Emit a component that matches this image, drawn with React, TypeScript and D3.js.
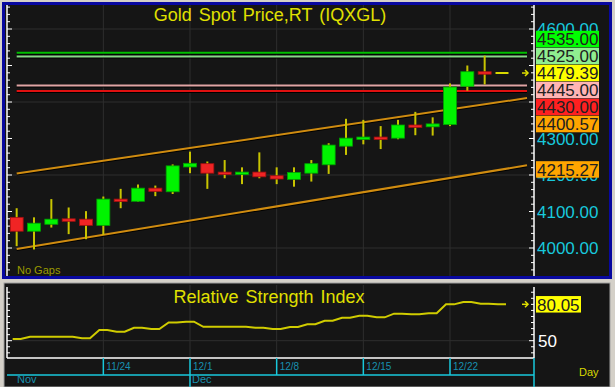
import React from "react";
import * as d3 from "d3";

// ---------- DATA ----------
const dates = [
  "11/17", "11/18", "11/19", "11/20", "11/21",
  "11/24", "11/25", "11/26", "11/27", "11/28",
  "12/1", "12/2", "12/3", "12/4", "12/5",
  "12/8", "12/9", "12/10", "12/11", "12/12",
  "12/15", "12/16", "12/17", "12/18", "12/19",
  "12/22", "12/23", "12/24", "12/25",
];
const opens = [4084, 4046, 4065, 4080, 4079, 4062, 4134, 4128, 4164, 4154, 4222, 4231, 4208, 4202, 4208, 4198, 4188, 4205, 4228, 4279, 4298, 4304, 4301, 4337, 4332, 4338, 4443, 4483, 4479.39];
const highs = [4109, 4084, 4134, 4111, 4101, 4141, 4162, 4174, 4171, 4229, 4264, 4237, 4241, 4221, 4262, 4221, 4221, 4241, 4287, 4354, 4351, 4334, 4351, 4373, 4358, 4451, 4500, 4527, 4479.39];
const lows = [4005, 3996, 4056, 4038, 4024, 4036, 4109, 4127, 4142, 4148, 4205, 4162, 4191, 4175, 4191, 4175, 4168, 4182, 4203, 4255, 4284, 4271, 4298, 4309, 4308, 4334, 4431, 4448, 4479.39];
const closes = [4046, 4068, 4079, 4076, 4062, 4134, 4129, 4164, 4155, 4225, 4232, 4205, 4202, 4208, 4195, 4189, 4207, 4231, 4282, 4301, 4304, 4299, 4337, 4332, 4340, 4441, 4483, 4478, 4479.39];
const rsiValues = [51.4, 53.3, 53.3, 53.3, 52.0, 58.8, 57.4, 60.7, 59.6, 65.0, 65.7, 61.5, 61.5, 61.5, 60.7, 59.6, 61.3, 63.6, 66.5, 69.0, 70.6, 69.3, 72.3, 71.8, 72.6, 80.0, 81.9, 80.5, 80.05];

const weekLabels = ["11/24", "12/1", "12/8", "12/15", "12/22"];
const monthLabels = ["Nov", "Dec"];
const monthStarts = ["11/17", "12/1"];

const priceTickLabels = [4000, 4100, 4200, 4300, 4600];
const priceGrid = [4000, 4200, 4400, 4600];
const levelValues = [4535, 4525, 4445, 4430];
const currentPrice = 4479.39;
const upperChannel = [4204, 4400.57]; // at first and last candle
const lowerChannel = [3997, 4215.27];
const rsiLast = 80.05;

// ---------- STYLE ----------
const FONT = "'Liberation Sans', Arial, Helvetica, sans-serif";
const levelLine = ["#00c000", "#88d888", "#e0a4a4", "#e01010"];
const levelBox = ["#00ff00", "#90ee90", "#ffb4b4", "#ff2020"];

export default function App() {
  const n = dates.length;
  const x = d3.scaleLinear().domain([0, n - 1]).range([16.67, 502]);
  const y = d3.scaleLinear().domain([4000, 4600]).range([248, 29]);
  const ry = d3.scaleLinear().domain([50, rsiLast]).range([340.7, 304.3]);
  const plotL = 7;
  const plotR = 534;
  const lineEnd = 527;
  const idxEnd = x.invert(lineEnd);

  const chan = (v: number[]) => {
    const s = d3.scaleLinear().domain([0, n - 1]).range(v);
    return [[x(0), y(s(0))], [lineEnd, y(s(idxEnd))]];
  };
  const up = chan(upperChannel);
  const lo = chan(lowerChannel);

  const minorTicks = d3.range(3940, 4661, 20);
  const rsiTicks = d3.range(40, 91, 5);

  type Lab = { v: number; bg: string; txt: string };
  const labs: Lab[] = [
    { v: levelValues[0], bg: levelBox[0], txt: levelValues[0].toFixed(2) },
    { v: levelValues[1], bg: levelBox[1], txt: levelValues[1].toFixed(2) },
    { v: currentPrice, bg: "#ffff00", txt: currentPrice.toFixed(2) },
    { v: levelValues[2], bg: levelBox[2], txt: levelValues[2].toFixed(2) },
    { v: levelValues[3], bg: levelBox[3], txt: levelValues[3].toFixed(2) },
    { v: upperChannel[1], bg: "#ffa500", txt: upperChannel[1].toFixed(2) },
  ];
  const step = 17;
  const anchor = 2;
  const pos: number[] = labs.map((l) => y(l.v));
  for (let i = anchor - 1; i >= 0; i--) pos[i] = Math.min(pos[i], pos[i + 1] - step);
  for (let i = anchor + 1; i < labs.length; i++) pos[i] = Math.max(pos[i], pos[i - 1] + step);

  const weekIdx = weekLabels.map((d) => dates.indexOf(d));
  const monthIdx = monthStarts.map((d) => dates.indexOf(d));

  const rsiPts: [number, number][] = [];
  rsiValues.forEach((v, i) => {
    rsiPts.push([x(i) - 4, ry(v)]);
    rsiPts.push([x(i) + 4, ry(v)]);
  });
  const rsiPath = d3.line()(rsiPts) || "";

  const box = (cy: number, bg: string, txt: string, key: string, w = 63) => (
    <g key={key}>
      <rect x={536} y={cy - 8.25} width={w} height={16.5} fill={bg} />
      <text x={537} y={cy + 6.2} fontSize={17} fill="#202020" fontFamily={FONT}>{txt}</text>
    </g>
  );

  const arrow = (cy: number, key: string) => (
    <g key={key} stroke="#e0e000" strokeWidth={1.5} fill="none">
      <line x1={522} y1={cy} x2={528} y2={cy} />
      <path d={`M525,${cy - 3} L528,${cy} L525,${cy + 3}`} />
    </g>
  );

  return (
    <svg width={615} height={387} style={{ position: "absolute", left: 0, top: 0 }} fontFamily={FONT}>
      <rect x={0} y={0} width={615} height={387} fill="#d4d0c8" />
      <rect x={2} y={2} width={610} height={277} fill="#0808a0" />
      <rect x={5} y={5} width={604} height={271} fill="#151515" />

      {priceGrid.map((p) => (
        <line key={"hg" + p} x1={plotL} x2={plotR} y1={y(p)} y2={y(p)} stroke="#2e2e2e" />
      ))}
      {weekIdx.map((i) => (
        <line key={"vg" + i} x1={x(i)} x2={x(i)} y1={5} y2={276} stroke="#2e2e2e" />
      ))}

      <text x={270} y={21} fontSize={18} fill="#e0e000" textAnchor="middle" wordSpacing={2}>Gold Spot Price,RT (IQXGL)</text>

      {levelValues.map((v, i) => (
        <g key={"lv" + v}>
          <line x1={x(0)} x2={lineEnd} y1={y(v) + 1} y2={y(v) + 1} stroke="#000" strokeWidth={2} />
          <line x1={x(0)} x2={lineEnd} y1={y(v)} y2={y(v)} stroke={levelLine[i]} strokeWidth={2} />
        </g>
      ))}

      {[up, lo].map((c, k) => (
        <g key={"ch" + k}>
          <line x1={c[0][0]} y1={c[0][1] + 1} x2={c[1][0]} y2={c[1][1] + 1} stroke="#000" strokeWidth={2} />
          <line x1={c[0][0]} y1={c[0][1]} x2={c[1][0]} y2={c[1][1]} stroke="#d08c10" strokeWidth={2} />
        </g>
      ))}

      {dates.map((d, i) => {
        const o = opens[i], c = closes[i], h = highs[i], l = lows[i];
        const cx = x(i);
        if (o === c && h === l) {
          return <line key={"c" + i} x1={cx - 6.5} x2={cx + 6.5} y1={y(c)} y2={y(c)} stroke="#d8d800" strokeWidth={2} />;
        }
        const top = y(Math.max(o, c));
        const bot = y(Math.min(o, c));
        const hgt = Math.max(bot - top, 2.5);
        const bull = c >= o;
        return (
          <g key={"c" + i}>
            <line x1={cx} x2={cx} y1={y(h)} y2={y(l)} stroke="#c8c400" strokeWidth={2} />
            <rect x={cx - 6.5} y={top} width={13} height={hgt} fill={bull ? "#00f400" : "#f02424"} stroke={bull ? "#00a000" : "#a01010"} strokeWidth={0.8} />
          </g>
        );
      })}

      <line x1={plotL} x2={plotL} y1={5} y2={276} stroke="#fff" strokeWidth={1.5} />
      <line x1={plotR} x2={plotR} y1={5} y2={276} stroke="#fff" strokeWidth={1.5} />
      {minorTicks.map((t) => {
        const major = t % 100 === 0;
        return (
          <g key={"t" + t} stroke="#fff">
            <line x1={plotL} x2={plotL + (major ? 5 : 3)} y1={y(t)} y2={y(t)} />
            <line x1={plotR} x2={plotR - (major ? 5 : 3)} y1={y(t)} y2={y(t)} />
          </g>
        );
      })}
      {priceTickLabels.map((t) => (
        <text key={"pl" + t} x={537} y={y(t) + 6.2} fontSize={17} fill="#18c8dc">{t.toFixed(2)}</text>
      ))}

      {labs.map((l, i) => box(pos[i], l.bg, l.txt, "b" + i))}
      {box(y(lowerChannel[1]), "#ffa500", lowerChannel[1].toFixed(2), "blo")}
      {arrow(y(currentPrice), "a1")}

      <text x={17} y={274} fontSize={11} fill="#9a9a00">No Gaps</text>

      <rect x={4} y={283} width={606} height={104} fill="#151515" stroke="#a0a0a0" strokeWidth={1} />
      {weekIdx.map((i) => (
        <line key={"rvg" + i} x1={x(i)} x2={x(i)} y1={285} y2={358} stroke="#2e2e2e" />
      ))}
      <line x1={plotL} x2={plotR} y1={ry(50)} y2={ry(50)} stroke="#2e2e2e" />
      <text x={269} y={303} fontSize={18} fill="#e0e000" textAnchor="middle" wordSpacing={2}>Relative Strength Index</text>
      <path d={rsiPath} fill="none" stroke="#d0cc00" strokeWidth={2} />
      <line x1={plotL} x2={plotL} y1={287} y2={358} stroke="#fff" strokeWidth={1.5} />
      <line x1={plotR} x2={plotR} y1={287} y2={358} stroke="#fff" strokeWidth={1.5} />
      <line x1={plotL} x2={plotR} y1={358} y2={358} stroke="#fff" strokeWidth={1.5} />
      {rsiTicks.map((t) => (
        <g key={"rt" + t} stroke="#fff">
          <line x1={plotL} x2={plotL + (t === 50 ? 5 : 3)} y1={ry(t)} y2={ry(t)} />
          <line x1={plotR} x2={plotR - (t === 50 ? 5 : 3)} y1={ry(t)} y2={ry(t)} />
        </g>
      ))}
      <text x={538} y={ry(50) + 6.2} fontSize={17} fill="#ffffff">50</text>
      <rect x={536} y={ry(rsiLast) - 8.25} width={45} height={16.5} fill="#ffff00" />
      <text x={537} y={ry(rsiLast) + 6.2} fontSize={17} fill="#202020">{rsiLast.toFixed(2)}</text>
      {arrow(ry(rsiLast), "a2")}

      <line x1={plotL} x2={plotR} y1={375} y2={375} stroke="#18c8dc" strokeWidth={1.5} />
      <line x1={plotR} x2={plotR} y1={358} y2={387} stroke="#18c8dc" strokeWidth={1.5} />
      {weekIdx.map((i, k) => (
        <g key={"wk" + i}>
          <line x1={x(i)} x2={x(i)} y1={358} y2={monthIdx.includes(i) ? 387 : 375} stroke="#18c8dc" strokeWidth={1.5} />
          <text x={x(i) + 3} y={370} fontSize={10} fill="#1890b0">{weekLabels[k]}</text>
        </g>
      ))}
      {monthLabels.map((m, k) => (
        <text key={"m" + m} x={monthIdx[k] === 0 ? 17 : x(monthIdx[k]) + 2} y={383} fontSize={11} fill="#1890b0">{m}</text>
      ))}
      <text x={579} y={376} fontSize={11} fill="#d8d800">Day</text>
    </svg>
  );
}
